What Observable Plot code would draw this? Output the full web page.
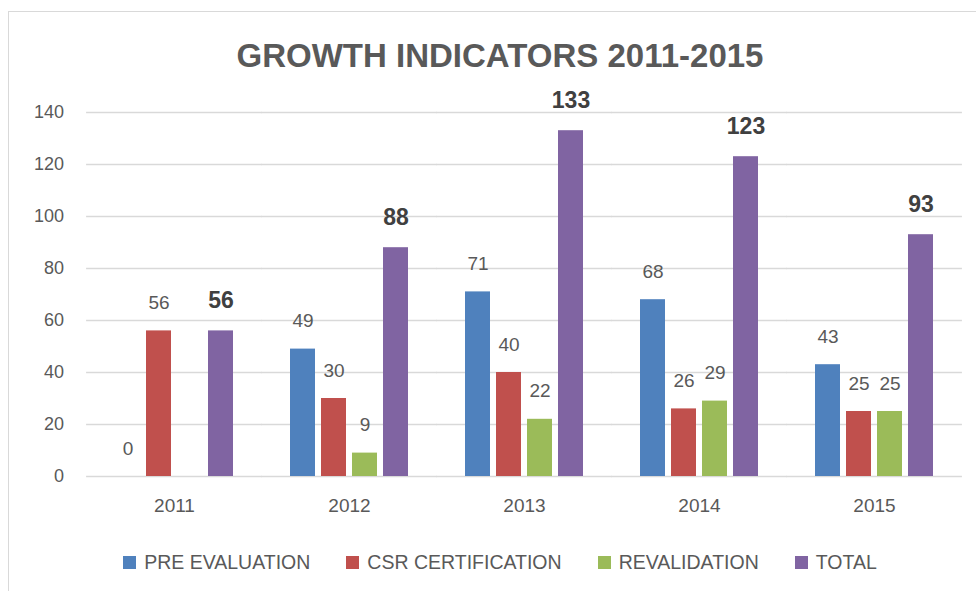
<!DOCTYPE html>
<html>
<head>
<meta charset="utf-8">
<script src="https://cdn.jsdelivr.net/npm/d3@7"></script>
<script src="https://cdn.jsdelivr.net/npm/@observablehq/plot@0.6"></script>
<style>
  html, body { margin: 0; padding: 0; background: #fff; overflow: hidden; }
  #wrap { position: relative; width: 976px; height: 591px; font-family: "Liberation Sans", Arial, sans-serif; }
  #frame { position: absolute; left: 8px; top: 11px; width: 984px; height: 620px; border: 1px solid #d9d9d9; box-sizing: border-box; }
  #title { position: absolute; left: 8px; width: 984px; top: 39px; text-align: center; font-size: 33px; line-height: 1; font-weight: bold; color: #595959; }
  #chart { position: absolute; left: 0; top: 80px; }
  #legend { position: absolute; left: 8px; width: 984px; top: 553px; display: flex; justify-content: center; align-items: center; font-size: 19.5px; line-height: 1; color: #595959; }
  .item { display: flex; align-items: center; margin: 0 18px; }
  .sw { width: 13px; height: 13px; margin-right: 8px; }
</style>
</head>
<body>
<div id="wrap">
  <div id="frame"></div>
  <div id="title">GROWTH INDICATORS 2011-2015</div>
  <div id="chart"></div>
  <div id="legend"></div>
</div>
<script>
const years = ["2011", "2012", "2013", "2014", "2015"];
const seriesNames = ["PRE EVALUATION", "CSR CERTIFICATION", "REVALIDATION", "TOTAL"];
const preEvaluation = [0, 49, 71, 68, 43];
const csrCertification = [56, 30, 40, 26, 25];
const revalidation = [null, 9, 22, 29, 25];
const total = [56, 88, 133, 123, 93];
const colors = ["#4F81BD", "#C0504D", "#9BBB59", "#8064A2"];
const yTicks = [0, 20, 40, 60, 80, 100, 120, 140];

const seriesValues = [preEvaluation, csrCertification, revalidation, total];
const data = years.flatMap((year, i) =>
  seriesNames.map((s, j) => ({ year, series: s, value: seriesValues[j][i] }))
).filter(d => d.value != null);

const W = 976, ML = 85, MR = 13;
const PI = 0.278, PO = 0.139;
const fxStep = (W - ML - MR) / (years.length - PI + 2 * PO);
const halfGap = PO * fxStep + 0.5;

const chart = Plot.plot({
  width: W,
  height: 441,
  marginLeft: ML,
  marginRight: MR,
  marginTop: 32,
  marginBottom: 45,
  style: { fontFamily: "Liberation Sans, Arial, sans-serif", color: "#595959", background: "transparent", overflow: "visible" },
  fx: { domain: years, paddingInner: PI, paddingOuter: PO, label: null },
  x: { domain: seriesNames, paddingInner: 0.18, paddingOuter: 0.09, axis: null },
  y: { domain: [0, 140], label: null },
  color: { domain: seriesNames, range: colors },
  marks: [
    Plot.ruleY(yTicks, { stroke: "#d9d9d9", strokeWidth: 1.3, insetLeft: -halfGap, insetRight: -halfGap }),
    Plot.axisY(yTicks, { tickSize: 0, tickPadding: 23 + PO * fxStep, fontSize: 18, fill: "#595959", label: null }),
    Plot.axisFx({ anchor: "bottom", tickSize: 0, tickPadding: 22, fontSize: 19, fill: "#595959", label: null }),
    Plot.barY(data, { fx: "year", x: "series", y: "value", fill: "series" }),
    Plot.text(data.filter(d => d.series !== "TOTAL"), {
      fx: "year", x: "series", y: "value", text: d => String(d.value),
      lineAnchor: "middle", dy: -28, fontSize: 19, fill: "#595959"
    }),
    Plot.text(data.filter(d => d.series === "TOTAL"), {
      fx: "year", x: "series", y: "value", text: d => String(d.value),
      lineAnchor: "middle", dy: -30, fontSize: 23, fontWeight: "bold", fill: "#404040"
    })
  ]
});
document.getElementById("chart").appendChild(chart);

const legend = d3.select("#legend");
seriesNames.forEach((s, i) => {
  const it = legend.append("div").attr("class", "item");
  it.append("div").attr("class", "sw").style("background", colors[i]);
  it.append("span").text(s);
});
</script>
</body>
</html>
